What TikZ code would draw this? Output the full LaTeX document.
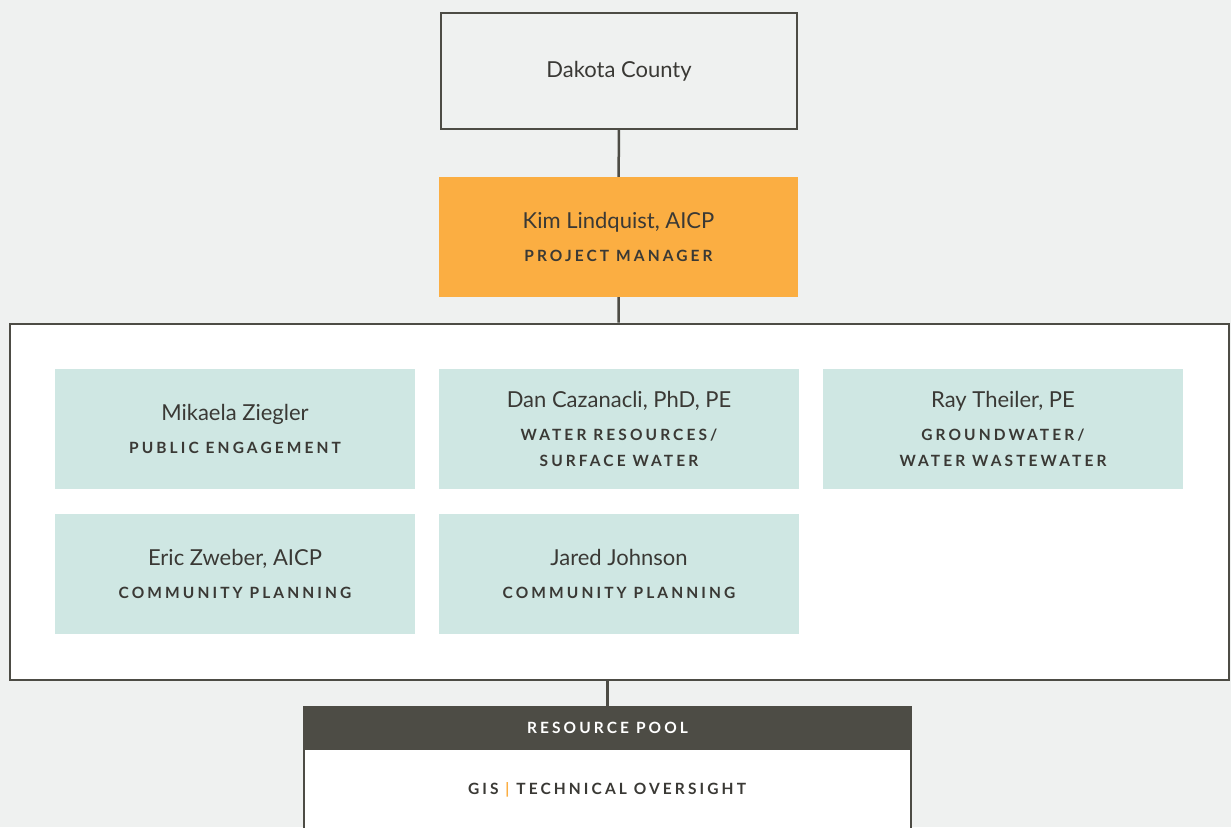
\documentclass[tikz,border=0pt]{standalone}
\usepackage{fontspec}
\setmainfont{Lato}
\newfontfamily\rolefont[LetterSpace=20]{Lato}
\usepackage{tikz}

\definecolor{pagebg}{HTML}{EFF1F0}
\definecolor{lineclr}{HTML}{4D4C45}
\definecolor{textclr}{HTML}{3A3935}
\definecolor{pmorange}{HTML}{FBAE42}
\definecolor{teamteal}{HTML}{CFE7E3}

\newcommand{\pname}[1]{{\fontsize{22}{26}\selectfont #1}}
\newcommand{\prole}[1]{{\rolefont\bfseries\fontsize{15.5}{26}\selectfont #1}}

\begin{document}
\begin{tikzpicture}[x=1pt, y=-1pt,
    every node/.style={inner sep=0pt, align=center, text=textclr, font=\fontsize{22}{26}\selectfont},
    client/.style={draw=lineclr, line width=2.2pt, minimum width=356pt, minimum height=116pt},
    lead/.style={fill=pmorange, minimum width=359pt, minimum height=120pt},
    member/.style={fill=teamteal, minimum width=360pt, minimum height=120pt},
    teambox/.style={draw=lineclr, line width=2pt, fill=white, minimum width=1219pt, minimum height=356pt},
    poolhead/.style={fill=lineclr, minimum width=609pt, minimum height=43pt, text=white},
    poolbody/.style={draw=lineclr, line width=2pt, fill=white, minimum width=607pt, minimum height=82pt},
    link/.style={draw=lineclr, line width=2.5pt}]
    \fill[pagebg] (0,0) rectangle (1231,827);
    \clip (0,0) rectangle (1231,827);

    \node[client] (county) at (619,71) {\pname{Dakota County}};
    \node[lead] (kim) at (618.5,237) {\pname{Kim Lindquist, AICP}\\[7pt]\prole{PROJECT MANAGER}};

    \node[teambox] (team) at (619,501.5) {};
    \node[member] (mikaela) at (235,429) {\pname{Mikaela Ziegler}\\[7pt]\prole{PUBLIC ENGAGEMENT}};
    \node[member] (dan) at (619,429) {\pname{Dan Cazanacli, PhD, PE}\\[7pt]\prole{WATER RESOURCES/}\\\prole{SURFACE WATER}};
    \node[member] (ray) at (1003,429) {\pname{Ray Theiler, PE}\\[7pt]\prole{GROUNDWATER/}\\\prole{WATER WASTEWATER}};
    \node[member] (eric) at (235,573.5) {\pname{Eric Zweber, AICP}\\[7pt]\prole{COMMUNITY PLANNING}};
    \node[member] (jared) at (619,573.5) {\pname{Jared Johnson}\\[7pt]\prole{COMMUNITY PLANNING}};

    \node[poolhead] (pool) at (607.5,727.5) {\prole{\color{white}RESOURCE POOL}};
    \node[poolbody] (oversight) at (607,790) {\prole{GIS \textcolor{pmorange}{|} TECHNICAL OVERSIGHT}};

    \draw[link] (county) -- (kim);
    \draw[link] (kim) -- (team);
    \draw[link] (team.south -| pool.north) -- (pool.north);
\end{tikzpicture}
\end{document}
